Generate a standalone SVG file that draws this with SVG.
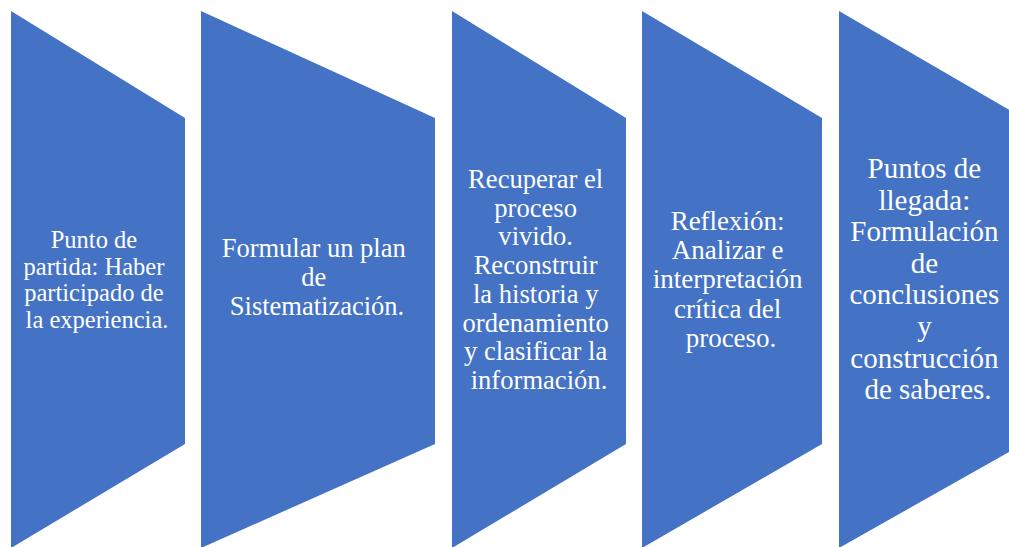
<svg xmlns="http://www.w3.org/2000/svg" width="1009" height="547" viewBox="0 0 1009 547">
  <style>
    .shape { fill: #4472C4; }
    .lbl { font-family: "Liberation Serif", "Times New Roman", serif; fill: #ffffff; text-anchor: middle; }
  </style>
  <rect x="0" y="0" width="1009" height="547" fill="#ffffff"/>
  <g id="node1">
    <polygon class="shape" points="11,11 185,118 185,444 11,548"/>
    <text class="lbl" font-size="24.5">
      <tspan x="97" y="248">Punto de</tspan>
      <tspan x="97" y="274.5">partida: Haber</tspan>
      <tspan x="97" y="301">participado de</tspan>
      <tspan x="97" y="327.5">la experiencia.</tspan>
    </text>
  </g>
  <g id="node2">
    <polygon class="shape" points="201,11 435,118 435,444 201,548"/>
    <text class="lbl" font-size="26.5">
      <tspan x="317" y="257">Formular un plan</tspan>
      <tspan x="317" y="286">de</tspan>
      <tspan x="317" y="315">Sistematización.</tspan>
    </text>
  </g>
  <g id="node3">
    <polygon class="shape" points="452,11 626,118 626,444 452,548"/>
    <text class="lbl" font-size="26.6">
      <tspan x="539" y="188">Recuperar el</tspan>
      <tspan x="539" y="216.7">proceso</tspan>
      <tspan x="539" y="245.4">vivido.</tspan>
      <tspan x="539" y="274.1">Reconstruir</tspan>
      <tspan x="539" y="302.8">la historia y</tspan>
      <tspan x="539" y="331.5">ordenamiento</tspan>
      <tspan x="539" y="360.2">y clasificar la</tspan>
      <tspan x="539" y="388.9">información.</tspan>
    </text>
  </g>
  <g id="node4">
    <polygon class="shape" points="642,11 822,118 822,444 642,548"/>
    <text class="lbl" font-size="27">
      <tspan x="731" y="230">Reflexión:</tspan>
      <tspan x="731" y="259.2">Analizar e</tspan>
      <tspan x="731" y="288.4">interpretación</tspan>
      <tspan x="731" y="317.6">crítica del</tspan>
      <tspan x="731" y="346.8">proceso.</tspan>
    </text>
  </g>
  <g id="node5">
    <polygon class="shape" points="839,11 1023,118 1023,444 839,548"/>
    <text class="lbl" font-size="29">
      <tspan x="928" y="178">Puntos de</tspan>
      <tspan x="928" y="209.6">llegada:</tspan>
      <tspan x="928" y="241.2">Formulación</tspan>
      <tspan x="928" y="272.8">de</tspan>
      <tspan x="928" y="304.4">conclusiones</tspan>
      <tspan x="928" y="336">y</tspan>
      <tspan x="928" y="367.6">construcción</tspan>
      <tspan x="928" y="399.2">de saberes.</tspan>
    </text>
  </g>
  <g id="connectors"></g>
</svg>
